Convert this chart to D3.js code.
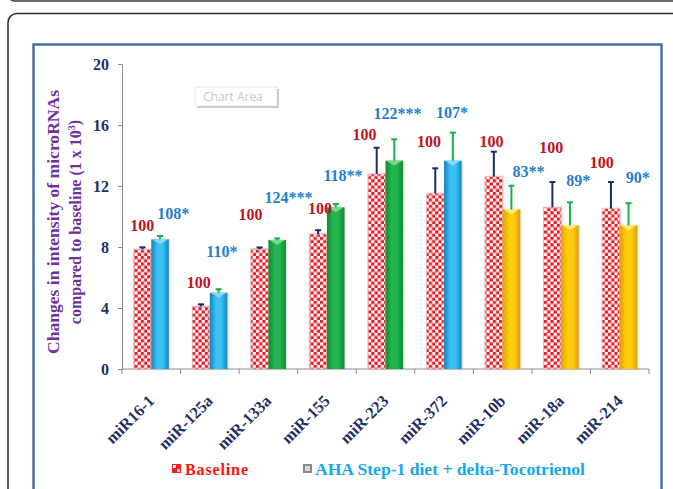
<!DOCTYPE html>
<html>
<head>
<meta charset="utf-8">
<script src="https://cdn.jsdelivr.net/npm/d3@7"></script>
<style>
  html, body { margin: 0; padding: 0; background: #fff; }
  svg { display: block; }
</style>
</head>
<body>
<svg id="chart" width="673" height="489"></svg>
<script>
// microRNA intensities (x 10^3) at baseline and after AHA Step-1 diet + delta-Tocotrienol
const categories = ["miR16-1", "miR-125a", "miR-133a", "miR-155", "miR-223", "miR-372", "miR-10b", "miR-18a", "miR-214"];
const baselineValues = [7.85, 4.10, 7.87, 8.85, 12.79, 11.52, 12.61, 10.60, 10.51];
const baselineErrors = [0.13, 0.14, 0.10, 0.25, 1.72, 1.64, 1.64, 1.66, 1.75];
const treatedValues = [8.50, 5.00, 8.46, 10.60, 13.66, 13.66, 10.47, 9.42, 9.42];
const treatedErrors = [0.22, 0.23, 0.10, 0.22, 1.40, 1.84, 1.55, 1.51, 1.45];
const baselineLabels = ["100", "100", "100", "100", "100", "100", "100", "100", "100"];
const treatedLabels = ["108*", "110*", "124***", "118**", "122***", "107*", "83**", "89*", "90*"];
const treatedGroup = ["blue", "blue", "green", "green", "green", "blue", "gold", "gold", "gold"];
const yTicks = [0, 4, 8, 12, 16, 20];
const seriesNames = ["Baseline", "AHA Step-1 diet + delta-Tocotrienol"];

// Hand-placed value labels: [x offset from group centre, lift above whisker] in px
const baselineLabelNudge = [[-9, 22], [-11, 22], [-18, 33], [-7, 22], [-21, 13], [-15, 27], [-11, 10], [-10, 35], [-18, 20]];
const treatedLabelNudge = [[22, 23], [12, 38], [20, 41], [16, 29], [12, 26], [8, 20], [26, 14], [17, 22], [18, 26]];

const palette = {
  blue:  { edge: "#0f86c0", mid: "#3cc0f2", cap: "#8fdcf8" },
  green: { edge: "#118a35", mid: "#22b54f", cap: "#7fe39a" },
  gold:  { edge: "#e0a000", mid: "#ffcc10", cap: "#fff08a" }
};

const serif = "'Liberation Serif', 'Times New Roman', serif";
const svg = d3.select("#chart");
const defs = svg.append("defs");

// red / white checkerboard for the baseline bars
const chk = defs.append("pattern").attr("id", "checks")
  .attr("patternUnits", "userSpaceOnUse").attr("width", 6.4).attr("height", 6.4);
chk.append("rect").attr("width", 6.4).attr("height", 6.4).attr("fill", "#ffffff");
chk.append("rect").attr("width", 3.2).attr("height", 3.2).attr("fill", "#ee1c25");
chk.append("rect").attr("x", 3.2).attr("y", 3.2).attr("width", 3.2).attr("height", 3.2).attr("fill", "#ee1c25");

// cylinder-like shading for the treated bars
Object.entries(palette).forEach(([k, c]) => {
  const g = defs.append("linearGradient").attr("id", "grad-" + k)
    .attr("x1", "0%").attr("x2", "100%").attr("y1", "0%").attr("y2", "0%");
  g.append("stop").attr("offset", "0%").attr("stop-color", c.edge);
  g.append("stop").attr("offset", "35%").attr("stop-color", c.mid);
  g.append("stop").attr("offset", "65%").attr("stop-color", c.mid);
  g.append("stop").attr("offset", "100%").attr("stop-color", c.edge);
});

const soft = defs.append("filter").attr("id", "soft").attr("x", "-30%").attr("y", "-10%").attr("width", "160%").attr("height", "120%");
soft.append("feDropShadow").attr("dx", 1).attr("dy", 0).attr("stdDeviation", 1).attr("flood-color", "#999").attr("flood-opacity", 0.45);

// Frames
svg.append("rect").attr("x", 8).attr("y", -20).attr("width", 700).attr("height", 21).attr("rx", 7)
  .attr("fill", "none").attr("stroke", "#3a3a3a").attr("stroke-width", 1.5);
svg.append("rect").attr("x", 8).attr("y", 13.5).attr("width", 700).attr("height", 520).attr("rx", 9)
  .attr("fill", "none").attr("stroke", "#2f2f2f").attr("stroke-width", 1.5);
svg.append("rect").attr("x", 33.5).attr("y", 44.5).attr("width", 628).attr("height", 500)
  .attr("fill", "#fff").attr("stroke", "#4a6ea9").attr("stroke-width", 2.5);

// Scales
const y = d3.scaleLinear().domain([0, 20]).range([369, 64]);
const x0 = d3.scaleBand().domain(categories).range([122, 649]).paddingInner(0.4).paddingOuter(0.2);
const x1 = d3.scaleBand().domain(["base", "treat"]).range([0, x0.bandwidth()]);
const center = c => x0(c) + x0.bandwidth() / 2;

// Y axis
const yAxis = svg.append("g").attr("transform", "translate(122,0)")
  .call(d3.axisLeft(y).tickValues(yTicks).tickSize(4).tickPadding(9).tickFormat(d3.format("d")));
yAxis.select(".domain").attr("stroke", "#8c8c8c");
yAxis.selectAll(".tick line").attr("stroke", "#8c8c8c");
yAxis.selectAll(".tick text").attr("font-family", serif).attr("font-weight", "bold")
  .attr("font-size", 16).attr("fill", "#1f3064");

// X axis (ticks at group boundaries)
const xAxisG = svg.append("g").attr("transform", "translate(0,369)");
xAxisG.append("line").attr("x1", 122).attr("x2", 649).attr("stroke", "#8c8c8c");
const boundaries = categories.map(c => x0(c) - x0.step() * 0.2).concat([649]);
xAxisG.selectAll("line.tk").data(boundaries).join("line").attr("class", "tk")
  .attr("x1", d => d).attr("x2", d => d).attr("y1", 0).attr("y2", 5).attr("stroke", "#8c8c8c");
xAxisG.selectAll("text").data(categories).join("text")
  .attr("transform", d => `translate(${center(d) + 4},${33}) rotate(-45)`)
  .attr("text-anchor", "end")
  .attr("font-family", serif).attr("font-weight", "bold").attr("font-size", 16.5)
  .attr("fill", "#1f3064").text(d => d);

// Y axis title
const yTitle = svg.append("g").attr("font-family", serif).attr("font-weight", "bold")
  .attr("font-size", 17).attr("fill", "#7030a0").attr("text-anchor", "middle");
yTitle.append("text").attr("transform", "translate(53,222) rotate(-90)").attr("dy", "0.35em")
  .attr("textLength", 264).attr("lengthAdjust", "spacingAndGlyphs")
  .text("Changes in intensity of microRNAs");
const t2 = yTitle.append("text").attr("transform", "translate(75,222) rotate(-90)").attr("dy", "0.35em")
  .attr("font-size", 16);
t2.append("tspan").text("compared to baseline (1 x 10");
t2.append("tspan").attr("font-size", 10).attr("dy", "-0.6em").text("3");
t2.append("tspan").attr("dy", "0.35em").text(")");

// Bars
const rows = categories.map((c, i) => ({
  c, i,
  base: baselineValues[i], baseErr: baselineErrors[i],
  treat: treatedValues[i], treatErr: treatedErrors[i],
  grp: treatedGroup[i]
}));
const bw = x1.bandwidth();

const barsG = svg.append("g");
barsG.selectAll("rect.base").data(rows).join("rect").attr("class", "base")
  .attr("x", d => x0(d.c) + x1("base")).attr("width", bw)
  .attr("y", d => y(d.base)).attr("height", d => y(0) - y(d.base))
  .attr("fill", "url(#checks)").attr("stroke", "#e2b5b5").attr("stroke-width", 0.8)
  .attr("filter", "url(#soft)");
barsG.selectAll("rect.treat").data(rows).join("rect").attr("class", "treat")
  .attr("x", d => x0(d.c) + x1("treat")).attr("width", bw)
  .attr("y", d => y(d.treat)).attr("height", d => y(0) - y(d.treat))
  .attr("fill", d => `url(#grad-${d.grp})`)
  .attr("filter", "url(#soft)");
// bevel highlight at the top of treated bars
barsG.selectAll("path.bevel").data(rows).join("path").attr("class", "bevel")
  .attr("d", d => {
    const xl = x0(d.c) + x1("treat"), yt = y(d.treat);
    return `M${xl + 1},${yt} L${xl + bw - 1},${yt} L${xl + bw / 2},${yt + 5} Z`;
  })
  .attr("fill", d => palette[d.grp].cap).attr("opacity", 0.85);

// Error bars (upper whisker only)
function whiskers(key, errKey, color) {
  const g = svg.append("g").attr("stroke", color).attr("stroke-width", 2);
  g.selectAll("line.v").data(rows).join("line").attr("class", "v")
    .attr("x1", d => x0(d.c) + x1(key) + bw / 2).attr("x2", d => x0(d.c) + x1(key) + bw / 2)
    .attr("y1", d => y(d[key])).attr("y2", d => y(d[key] + d[errKey]));
  g.selectAll("line.cap").data(rows).join("line").attr("class", "cap")
    .attr("x1", d => x0(d.c) + x1(key) + bw / 2 - 3).attr("x2", d => x0(d.c) + x1(key) + bw / 2 + 3)
    .attr("y1", d => y(d[key] + d[errKey])).attr("y2", d => y(d[key] + d[errKey]));
}
whiskers("base", "baseErr", "#1c2a66");
whiskers("treat", "treatErr", "#19b04b");

// Value labels
const lblG = svg.append("g").attr("font-family", serif).attr("font-weight", "bold")
  .attr("font-size", 16).attr("text-anchor", "middle");
lblG.selectAll("text.bl").data(rows).join("text").attr("class", "bl")
  .attr("x", d => center(d.c) + baselineLabelNudge[d.i][0])
  .attr("y", d => y(d.base + d.baseErr) - baselineLabelNudge[d.i][1])
  .attr("dy", "0.35em").attr("fill", "#c0141e").text(d => baselineLabels[d.i]);
lblG.selectAll("text.tl").data(rows).join("text").attr("class", "tl")
  .attr("x", d => center(d.c) + treatedLabelNudge[d.i][0])
  .attr("y", d => y(d.treat + d.treatErr) - treatedLabelNudge[d.i][1])
  .attr("dy", "0.35em").attr("fill", "#1f80cf").text(d => treatedLabels[d.i]);

// Legend
const lg = svg.append("g").attr("font-family", serif).attr("font-weight", "bold").attr("font-size", 16);
const i1 = lg.append("g").attr("transform", "translate(172,464)");
i1.append("rect").attr("width", 9).attr("height", 9).attr("fill", "#ee1c25");
i1.append("rect").attr("x", 1).attr("y", 1).attr("width", 3).attr("height", 3).attr("fill", "#fff");
i1.append("rect").attr("x", 5).attr("y", 5).attr("width", 3).attr("height", 3).attr("fill", "#f4c0c0");
lg.append("text").attr("x", 185).attr("y", 469).attr("dy", "0.35em").attr("fill", "#ff1010")
  .attr("textLength", 63).attr("lengthAdjust", "spacing").text(seriesNames[0]);
const i2 = lg.append("g").attr("transform", "translate(303,464)");
i2.append("rect").attr("width", 9).attr("height", 9).attr("fill", "#8a8a8a");
i2.append("rect").attr("x", 2).attr("y", 2).attr("width", 5).attr("height", 5).attr("fill", "#d8d8d8");
lg.append("text").attr("x", 315).attr("y", 469).attr("dy", "0.35em").attr("fill", "#12a8ee")
  .attr("textLength", 270).attr("lengthAdjust", "spacingAndGlyphs").text(seriesNames[1]);

// Hover tag left on the plot
const tag = svg.append("g").attr("transform", "translate(195,87)");
tag.append("rect").attr("x", 2).attr("y", 2).attr("width", 82).attr("height", 19).attr("fill", "#9a9a9a").attr("opacity", 0.5);
tag.append("rect").attr("width", 82).attr("height", 19).attr("fill", "#fff")
  .attr("stroke", "#d4d4b0").attr("stroke-dasharray", "1,1");
tag.append("text").attr("x", 8).attr("y", 14).attr("font-family", "'Open Sans', 'DejaVu Sans', sans-serif")
  .attr("font-size", 12).attr("fill", "#c8c8c8").text("Chart Area");
</script>
</body>
</html>
